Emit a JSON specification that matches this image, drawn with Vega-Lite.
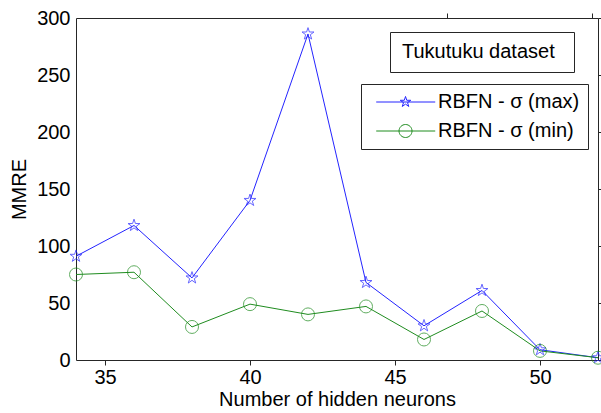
{
  "$schema": "https://vega.github.io/schema/vega-lite/v6.json",
  "autosize": "none",
  "padding": {"left": 76, "top": 18, "right": 3, "bottom": 53},
  "width": 522,
  "height": 342,
  "background": "white",
  "config": {
    "font": "Liberation Sans",
    "view": {"stroke": "#262626", "strokeWidth": 1},
    "axis": {
      "domain": false,
      "grid": false,
      "labelFont": "Liberation Sans",
      "labelFontSize": 20,
      "labelColor": "#000000",
      "titleFont": "Liberation Sans",
      "titleFontSize": 20,
      "titleFontWeight": "normal",
      "titleColor": "#000000",
      "tickColor": "#262626",
      "tickSize": 5,
      "tickWidth": 1,
      "zindex": 1
    },
    "legend": {
      "labelFont": "Liberation Sans",
      "labelFontSize": 20,
      "labelColor": "#000000"
    }
  },
  "data": {
    "values": [
      {"n": 34, "series": "RBFN - σ (max)", "mmre": 91},
      {"n": 36, "series": "RBFN - σ (max)", "mmre": 118},
      {"n": 38, "series": "RBFN - σ (max)", "mmre": 72},
      {"n": 40, "series": "RBFN - σ (max)", "mmre": 140},
      {"n": 42, "series": "RBFN - σ (max)", "mmre": 286},
      {"n": 44, "series": "RBFN - σ (max)", "mmre": 68},
      {"n": 46, "series": "RBFN - σ (max)", "mmre": 30},
      {"n": 48, "series": "RBFN - σ (max)", "mmre": 61},
      {"n": 50, "series": "RBFN - σ (max)", "mmre": 9},
      {"n": 52, "series": "RBFN - σ (max)", "mmre": 2},
      {"n": 34, "series": "RBFN - σ (min)", "mmre": 75},
      {"n": 36, "series": "RBFN - σ (min)", "mmre": 77},
      {"n": 38, "series": "RBFN - σ (min)", "mmre": 29},
      {"n": 40, "series": "RBFN - σ (min)", "mmre": 49},
      {"n": 42, "series": "RBFN - σ (min)", "mmre": 40},
      {"n": 44, "series": "RBFN - σ (min)", "mmre": 47},
      {"n": 46, "series": "RBFN - σ (min)", "mmre": 18},
      {"n": 48, "series": "RBFN - σ (min)", "mmre": 43},
      {"n": 50, "series": "RBFN - σ (min)", "mmre": 8},
      {"n": 52, "series": "RBFN - σ (min)", "mmre": 2}
    ]
  },
  "resolve": {"axis": {"x": "independent", "y": "independent"}},
  "layer": [
    {
      "mark": {"type": "line", "strokeWidth": 1, "clip": false},
      "encoding": {
        "x": {
          "field": "n", "type": "quantitative",
          "scale": {"domain": [34, 52], "nice": false, "zero": false},
          "axis": {"orient": "bottom", "values": [35, 40, 45, 50], "ticks": false, "tickSize": 0, "labelPadding": 7, "title": "Number of hidden neurons", "titleY": 45, "titleBaseline": "alphabetic"}
        },
        "y": {
          "field": "mmre", "type": "quantitative",
          "scale": {"domain": [0, 300], "nice": false, "zero": true},
          "axis": {"orient": "left", "values": [0, 50, 100, 150, 200, 250, 300], "ticks": false, "tickSize": 0, "labelPadding": 6, "title": "MMRE", "titleX": -51, "titleY": 171, "titleBaseline": "alphabetic", "titleAngle": -90}
        },
        "color": {
          "field": "series", "type": "nominal",
          "scale": {"domain": ["RBFN - σ (max)", "RBFN - σ (min)"], "range": ["#2424ff", "#1f8c1f"]},
          "legend": {
            "orient": "none",
            "legendX": 285,
            "legendY": 66,
            "title": null,
            "padding": 8,
            "rowPadding": 9,
            "symbolSize": 169,
            "labelOffset": 49,
            "strokeColor": "#262626",
            "fillColor": "white",
            "symbolStrokeWidth": 1,
            "encode": {
              "symbols": {
                "update": {
                  "fill": {"value": "transparent"},
                  "shape": {"signal": "datum.value === 'RBFN - σ (max)' ? 'M-0.43,0L8.65,0M4.08,-0.85L4.271,-0.263L4.888,-0.263L4.389,0.1L4.58,0.688L4.08,0.325L3.58,0.688L3.771,0.1L3.272,-0.263L3.889,-0.263Z' : 'M-0.43,0L8.65,0M5.08,0A1,1 0 1,1 3.08,0A1,1 0 1,1 5.08,0Z'"}
                }
              }
            }
          }
        }
      }
    },
    {
      "transform": [{"filter": "datum.series === 'RBFN - σ (max)'"}],
      "mark": {"type": "point", "filled": false, "strokeWidth": 1, "size": 160, "clip": false, "shape": "M0,-1L0.2245,-0.309L0.9511,-0.309L0.3633,0.118L0.5878,0.809L0,0.382L-0.5878,0.809L-0.3633,0.118L-0.9511,-0.309L-0.2245,-0.309Z"},
      "encoding": {
        "x": {"field": "n", "type": "quantitative", "axis": {"orient": "top", "position": 342, "values": [35, 40, 45, 50], "labels": false, "title": null}},
        "y": {"field": "mmre", "type": "quantitative", "axis": {"orient": "right", "position": 0, "values": [0, 50, 100, 150, 200, 250, 300], "labels": false, "title": null}},
        "color": {"field": "series", "type": "nominal"}
      }
    },
    {
      "transform": [{"filter": "datum.series === 'RBFN - σ (min)'"}],
      "mark": {"type": "point", "filled": false, "strokeWidth": 1, "size": 169, "clip": false, "shape": "circle"},
      "encoding": {
        "x": {"field": "n", "type": "quantitative", "axis": {"orient": "bottom", "position": 0, "values": [35, 40, 45, 50], "labels": false, "title": null}},
        "y": {"field": "mmre", "type": "quantitative", "axis": {"orient": "left", "position": 522, "values": [0, 50, 100, 150, 200, 250, 300], "labels": false, "title": null}},
        "color": {"field": "series", "type": "nominal"}
      }
    },
    {
      "mark": {"type": "point", "opacity": 0},
      "encoding": {
        "x": {"field": "n", "type": "quantitative", "axis": null},
        "y": {"field": "mmre", "type": "quantitative", "axis": null},
        "strokeDash": {
          "datum": "Tukutuku dataset",
          "legend": {
            "orient": "none",
            "legendX": 314,
            "legendY": 14,
            "title": "\u00a0",
            "titleOrient": "right",
            "titlePadding": 9,
            "titleFontSize": 20,
            "padding": 10,
            "symbolSize": 0,
            "symbolOpacity": 0,
            "labelOffset": -18,
            "strokeColor": "#262626",
            "fillColor": "white"
          }
        }
      }
    }
  ]
}
